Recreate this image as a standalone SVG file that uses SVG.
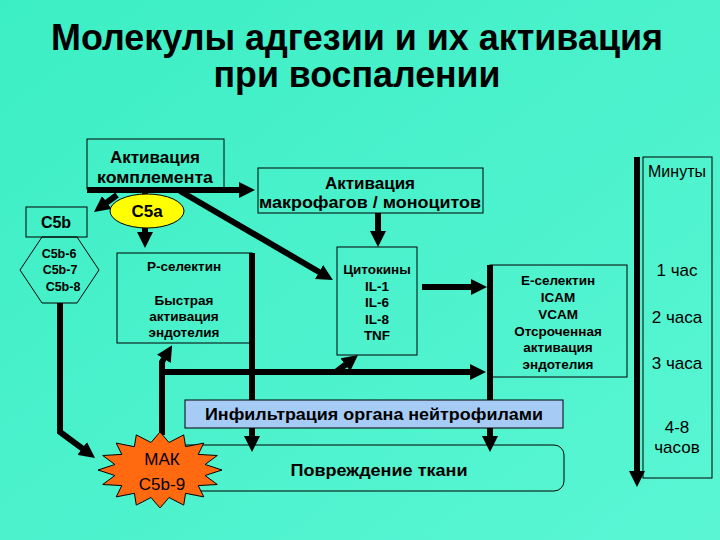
<svg xmlns="http://www.w3.org/2000/svg" width="720" height="540" viewBox="0 0 720 540">
<defs>
<linearGradient id="bg" x1="0" y1="0" x2="1" y2="1">
<stop offset="0" stop-color="#3CEEC4"/>
<stop offset="1" stop-color="#5AF6D4"/>
</linearGradient>
<marker id="ah" viewBox="0 0 10 10" refX="5" refY="5" markerWidth="16" markerHeight="16" markerUnits="userSpaceOnUse" orient="auto">
<path d="M0,0 L10,5 L0,10 z" fill="#000"/>
</marker>
<style>
.t{font-family:"Liberation Sans",Arial,sans-serif;fill:#000;text-anchor:middle}
.b{font-weight:bold}
.box{fill:none;stroke:#000;stroke-width:1}
.c{fill:none;stroke:#000;stroke-width:6;marker-end:url(#ah)}
.s{font-size:13.5px}
.tl{font-size:17px}
</style>
</defs>
<rect width="720" height="540" fill="url(#bg)"/>
<g id="title">
<text class="t b" x="357" y="50" font-size="36" textLength="612" lengthAdjust="spacingAndGlyphs">Молекулы адгезии и их активация</text>
<text class="t b" x="357" y="87" font-size="36" textLength="287" lengthAdjust="spacingAndGlyphs">при воспалении</text>
</g>
<g id="connectors">
<line class="c" x1="87" y1="190" x2="247" y2="190"/>
<line class="c" x1="117" y1="195" x2="100.4" y2="207.2"/>
<line class="c" x1="145" y1="190" x2="145" y2="240"/>
<line class="c" x1="180" y1="191" x2="326" y2="276"/>
<line class="c" x1="378" y1="213" x2="378" y2="239"/>
<line class="c" x1="422" y1="287" x2="479" y2="287"/>
<line class="c" x1="252" y1="253" x2="252" y2="444"/>
<line class="c" x1="490" y1="265" x2="490" y2="444"/>
<path class="c" d="M60,303 V432 L88.6,453.2"/>
<path class="c" d="M162,435 V362 L168,352"/>
<line class="c" x1="159" y1="372" x2="478" y2="372"/>
<line class="c" x1="336" y1="372" x2="351.7" y2="359.9"/>
<line class="c" x1="637" y1="157" x2="637" y2="479"/>
</g>
<g id="complement">
<rect class="box" x="87" y="139" width="137" height="50"/>
<text class="t b" x="155" y="163" font-size="17">Активация</text>
<text class="t b" x="155" y="183" font-size="17" textLength="116" lengthAdjust="spacingAndGlyphs">комплемента</text>
</g>
<g id="c5b">
<rect class="box" x="26" y="207" width="61" height="30"/>
<text class="t b" x="56" y="228" font-size="16">C5b</text>
</g>
<g id="c5b-complex">
<polygon points="42,237 77,237 99,270 77,303 42,303 20,270" fill="none" stroke="#000" stroke-width="1"/>
<text class="t b" x="59" y="258" font-size="12.5">C5b-6</text>
<text class="t b" x="60" y="274" font-size="12.5">C5b-7</text>
<text class="t b" x="63" y="291" font-size="12.5">C5b-8</text>
</g>
<g id="c5a">
<ellipse cx="147" cy="211" rx="37" ry="17" fill="#FFFF00" stroke="#000" stroke-width="1"/>
<text class="t b" x="147" y="217" font-size="17">C5a</text>
</g>
<g id="macrophages">
<rect class="box" x="258" y="168" width="225" height="45"/>
<text class="t b" x="370" y="189" font-size="17">Активация</text>
<text class="t b" x="370" y="208" font-size="17" textLength="222" lengthAdjust="spacingAndGlyphs">макрофагов / моноцитов</text>
</g>
<g id="p-selectin">
<rect class="box" x="117" y="253" width="135" height="90"/>
<text class="t b s" x="184" y="271">Р-селектин</text>
<text class="t b s" x="184" y="305">Быстрая</text>
<text class="t b s" x="184" y="321">активация</text>
<text class="t b s" x="184" y="337">эндотелия</text>
</g>
<g id="cytokines">
<rect class="box" x="337" y="247" width="80" height="108"/>
<text class="t b s" x="377" y="274">Цитокины</text>
<text class="t b s" x="377" y="291">IL-1</text>
<text class="t b s" x="377" y="307">IL-6</text>
<text class="t b s" x="377" y="324">IL-8</text>
<text class="t b s" x="377" y="340">TNF</text>
</g>
<g id="e-selectin">
<rect class="box" x="490" y="265" width="137" height="112"/>
<text class="t b s" x="558" y="285">Е-селектин</text>
<text class="t b s" x="558" y="302">ICAM</text>
<text class="t b s" x="558" y="319">VCAM</text>
<text class="t b s" x="558" y="336">Отсроченная</text>
<text class="t b s" x="558" y="352">активация</text>
<text class="t b s" x="558" y="369">эндотелия</text>
</g>
<g id="timeline">
<rect class="box" x="643" y="157" width="69" height="321"/>
<text class="t" x="677" y="177" font-size="16">Минуты</text>
<text class="t tl" x="677" y="276">1 час</text>
<text class="t tl" x="677" y="323">2 часа</text>
<text class="t tl" x="677" y="369">3 часа</text>
<text class="t tl" x="677" y="433" font-family="Liberation Serif">4-8</text>
<text class="t tl" x="677" y="453" font-family="Liberation Serif">часов</text>
</g>
<g id="damage">
<rect class="box" x="155" y="445" width="409" height="46" rx="10"/>
<text class="t b" x="379" y="476" font-size="17" textLength="177" lengthAdjust="spacingAndGlyphs">Повреждение ткани</text>
</g>
<g id="infiltration">
<rect x="185" y="400" width="378" height="28" fill="#A6CBF5" stroke="#000" stroke-width="1"/>
<text class="t b" x="374" y="420" font-size="17" textLength="338" lengthAdjust="spacingAndGlyphs">Инфильтрация органа нейтрофилами</text>
</g>
<g id="mak">
<polygon points="222,470 205.1,475.5 217.3,484.5 198.2,485.6 203.8,496.9 185.6,493.3 183.7,505.1 169,497.5 160,508 151,497.5 136.3,505.1 134.4,493.3 116.2,496.9 121.8,485.6 102.7,484.5 114.9,475.5 98,470 114.9,464.5 102.7,455.5 121.8,454.4 116.2,443.1 134.4,446.7 136.3,434.9 151,442.5 160,432 169,442.5 183.7,434.9 185.6,446.7 203.8,443.1 198.2,454.4 217.3,455.5 205.1,464.5" fill="#FF6A10" stroke="#000" stroke-width="1"/>
<text class="t" x="162" y="465" font-size="17">МАК</text>
<text class="t" x="162" y="490" font-size="17">C5b-9</text>
</g>
</svg>
